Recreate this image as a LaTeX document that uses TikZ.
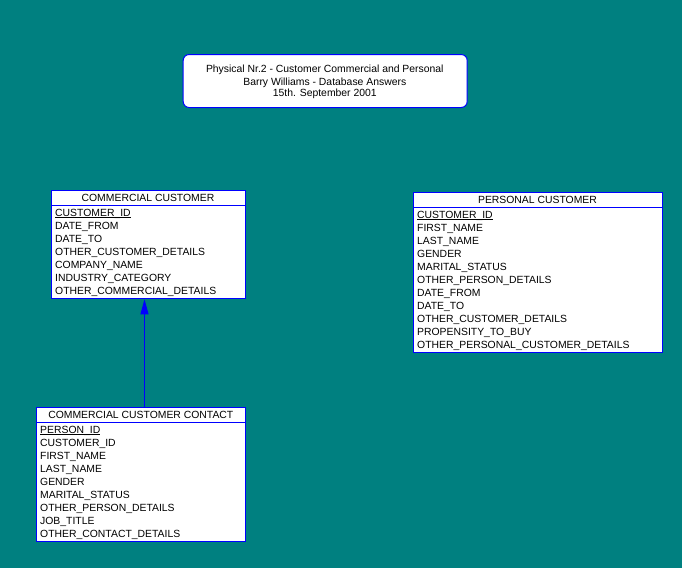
\documentclass[tikz,border=0pt]{standalone}
\usepackage{fontspec}
\setmainfont{Liberation Sans}
\usetikzlibrary{arrows.meta}
\definecolor{bg}{HTML}{008080}
\definecolor{er}{HTML}{0000FF}
\newsavebox\pkbox
\newcommand{\pkey}[1]{\sbox\pkbox{#1}\rlap{\rule[-1.8pt]{\wd\pkbox}{0.9pt}}\usebox\pkbox}
\tikzset{
  tbl/.style={draw=er, fill=white, line width=1pt, anchor=north west, inner sep=0pt},
  txt/.style={font=\fontsize{10.4}{12}\selectfont, inner sep=0pt, text=black, anchor=base},
  fld/.style={txt, anchor=base west},
  sep/.style={draw=er, line width=1pt},
  rel/.style={draw=er, line width=1pt, -{Triangle[length=15pt,width=8pt]}}
}
\begin{document}
\begin{tikzpicture}[x=1pt,y=-1pt]
\fill[bg] (0,0) rectangle (682,568);
\useasboundingbox (0,0) rectangle (682,568);

% title
\node[draw=er, fill=white, line width=1pt, rounded corners=6pt, minimum width=284pt, minimum height=53pt, anchor=north west, inner sep=0pt] (title) at (182.7,54) {};
\node[txt] (t1) at (324.8,72.6) {Physical Nr.2 - Customer Commercial and Personal};
\node[txt] (t2) at (324.8,85.2) {Barry Williams - Database Answers};
\node[txt] (t3) at (324.8,96) {15th. September 2001};

% commercial customer
\node[tbl, minimum width=193.4pt, minimum height=108.3pt] (cc) at (51.3,190) {};
\draw[sep] ([yshift=-15.5pt]cc.north west) -- ([yshift=-15.5pt]cc.north east);
\node[txt] (cch) at (148,201.3) {COMMERCIAL CUSTOMER};
\foreach \t [count=\i from 0] in {{\pkey{CUSTOMER\_ID}},DATE\_FROM,DATE\_TO,OTHER\_CUSTOMER\_DETAILS,COMPANY\_NAME,INDUSTRY\_CATEGORY,OTHER\_COMMERCIAL\_DETAILS}
  \node[fld] (cc-\i) at (55,216+13*\i) {\t};

% personal customer
\node[tbl, minimum width=248.4pt, minimum height=160.3pt] (pc) at (413.3,191.7) {};
\draw[sep] ([yshift=-16pt]pc.north west) -- ([yshift=-16pt]pc.north east);
\node[txt] (pch) at (537.5,203.2) {PERSONAL CUSTOMER};
\foreach \t [count=\i from 0] in {{\pkey{CUSTOMER\_ID}},FIRST\_NAME,LAST\_NAME,GENDER,MARITAL\_STATUS,OTHER\_PERSON\_DETAILS,DATE\_FROM,DATE\_TO,OTHER\_CUSTOMER\_DETAILS,PROPENSITY\_TO\_BUY,OTHER\_PERSONAL\_CUSTOMER\_DETAILS}
  \node[fld] (pc-\i) at (417,218+13*\i) {\t};

% commercial customer contact
\node[tbl, minimum width=209pt, minimum height=134.3pt] (ccc) at (36.3,406.7) {};
\draw[sep] ([yshift=-15.6pt]ccc.north west) -- ([yshift=-15.6pt]ccc.north east);
\node[txt] (ccch) at (140.8,418.5) {COMMERCIAL CUSTOMER CONTACT};
\foreach \t [count=\i from 0] in {{\pkey{PERSON\_ID}},CUSTOMER\_ID,FIRST\_NAME,LAST\_NAME,GENDER,MARITAL\_STATUS,OTHER\_PERSON\_DETAILS,JOB\_TITLE,OTHER\_CONTACT\_DETAILS}
  \node[fld] (ccc-\i) at (40,433.4+13*\i) {\t};

% relationship
\draw[rel] ([xshift=-4pt]cc.south |- ccc.north) -- ([xshift=-4pt]cc.south);
\end{tikzpicture}
\end{document}
